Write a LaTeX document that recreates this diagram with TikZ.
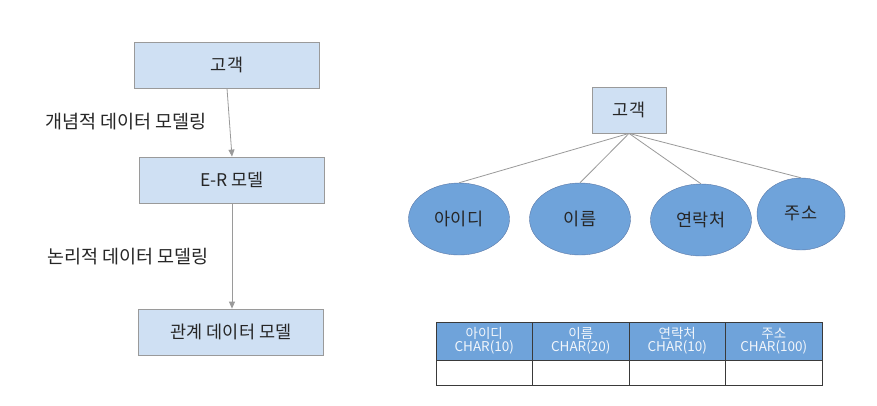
\documentclass[tikz,border=0pt]{standalone}
\usepackage{fontspec}
\setmainfont{Noto Sans CJK KR}
\usetikzlibrary{arrows.meta,positioning,shapes.geometric}
\definecolor{boxfill}{HTML}{CFE0F3}
\definecolor{boxline}{HTML}{9A9A9A}
\definecolor{attrfill}{HTML}{6FA3DA}
\definecolor{attrline}{HTML}{5A78A8}
\definecolor{headfill}{HTML}{6FA3DA}
\definecolor{headtext}{HTML}{F2F6FB}
\definecolor{tabline}{HTML}{3A3A3A}
\definecolor{txt}{HTML}{262626}

\begin{document}
\begin{tikzpicture}[
  x=1pt, y=-1pt,
  font=\fontsize{17.5}{20}\selectfont, text=txt,
  box/.style={draw=boxline, thick, fill=boxfill, minimum width=185pt, minimum height=46pt, inner sep=0pt},
  ebox/.style={draw=boxline, thick, fill=boxfill, minimum width=74pt, minimum height=46pt, inner sep=0pt},
  attr/.style={ellipse, draw=attrline, fill=attrfill, minimum width=101pt, minimum height=72pt, inner sep=0pt},
  arr/.style={-{Triangle[length=7pt,width=6pt]}, draw=boxline, thick},
  link/.style={draw=boxline, thick},
  head/.style={draw=tabline, thick, fill=headfill, text=headtext, minimum width=96.5pt, minimum height=38pt, inner sep=0pt, align=center, font=\fontsize{13.5}{15}\selectfont},
  cell/.style={draw=tabline, thick, fill=white, minimum width=96.5pt, minimum height=25pt, inner sep=0pt}
]
\useasboundingbox[fill=white] (0,0) rectangle (877,405);

% left: modelling steps
\node[box] (cust) at (227,65) {고객};
\node[box] (er) at (232,180) {E-R 모델};
\node[box] (rel) at (231,332) {관계 데이터 모델};
\draw[arr] (cust.south) -- (er.north);
\draw[arr] (er.south) -- (er.south |- rel.north);
\node[anchor=west, font=\fontsize{18.5}{20}\selectfont] (lbl1) at (42,122) {개념적 데이터 모델링};
\node[anchor=west, font=\fontsize{18.5}{20}\selectfont] (lbl2) at (44,257) {논리적 데이터 모델링};

% right: entity with attributes
\node[ebox] (ent) at (629,110) {고객};
\node[attr] (id) at (459,219) {아이디};
\node[attr] (name) at (580,219) {이름};
\node[attr] (tel) at (701,220) {연락처};
\node[attr, minimum width=88pt] (addr) at (801,214) {\raisebox{3pt}{주소}};
\foreach \a in {id,name,tel,addr}
  \draw[link] (ent.south) -- (\a.north);

% table
\foreach \t/\d [count=\i] in {아이디/CHAR(10),이름/CHAR(20),연락처/CHAR(10),주소/CHAR(100)} {
  \node[head] (h\i) at (436+96.5*\i-48.25,341) {\t\\[-2pt]\d};
  \node[cell, below=0pt of h\i] (b\i) {};
}
\end{tikzpicture}
\end{document}
